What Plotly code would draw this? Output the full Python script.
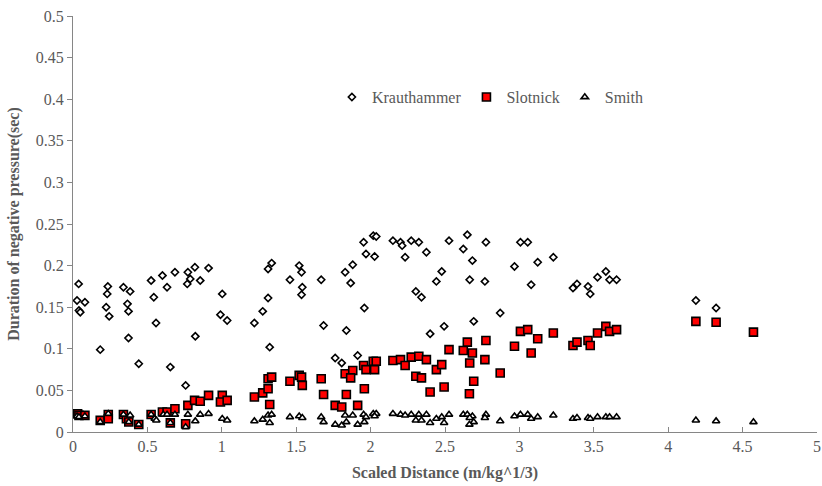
import plotly.graph_objects as go

# Krauthammer
k_x = [0.038, 0.027, 0.080, 0.040, 0.049, 0.234, 0.230, 0.223, 0.243, 0.183,
       0.339, 0.384, 0.366, 0.373, 0.373, 0.442, 0.525, 0.543, 0.558, 0.601,
       0.632, 0.685, 0.654, 0.757, 0.772, 0.788, 0.768, 0.819, 0.822, 0.855,
       0.911, 1.003, 0.991, 1.036, 1.219, 1.275, 1.311, 1.322, 1.311, 1.335,
       1.458, 1.520, 1.536, 1.541, 1.536, 1.668, 1.684, 1.762, 1.806, 1.829,
       1.880, 1.866, 1.837, 1.913, 1.953, 1.969, 2.018, 2.038, 2.027, 1.958,
       2.150, 2.201, 2.212, 2.232, 2.273, 2.324, 2.375, 2.304, 2.342, 2.400,
       2.442, 2.478, 2.494, 2.527, 2.623, 2.650, 2.684, 2.666, 2.693, 2.775,
       2.768, 2.871, 3.007, 3.056, 2.967, 3.123, 3.079, 3.228, 3.360, 3.387,
       3.461, 3.476, 3.525, 3.581, 3.606, 3.653, 4.186, 4.322]
k_y = [0.178, 0.158, 0.156, 0.146, 0.144, 0.175, 0.166, 0.150, 0.139, 0.099,
       0.174, 0.169, 0.154, 0.145, 0.113, 0.082, 0.182, 0.162, 0.131, 0.188,
       0.174, 0.192, 0.078, 0.056, 0.192, 0.184, 0.178, 0.198, 0.115, 0.182,
       0.197, 0.166, 0.141, 0.134, 0.131, 0.145, 0.161, 0.102, 0.196, 0.203,
       0.183, 0.200, 0.192, 0.174, 0.165, 0.183, 0.128, 0.089, 0.083, 0.192,
       0.201, 0.179, 0.122, 0.092, 0.228, 0.214, 0.236, 0.235, 0.211, 0.149,
       0.230, 0.228, 0.224, 0.210, 0.230, 0.228, 0.216, 0.169, 0.162, 0.118,
       0.181, 0.193, 0.127, 0.230, 0.220, 0.237, 0.206, 0.183, 0.133, 0.228,
       0.181, 0.143, 0.228, 0.228, 0.199, 0.204, 0.177, 0.210, 0.173, 0.178,
       0.175, 0.166, 0.186, 0.193, 0.183, 0.183, 0.158, 0.149]

# Slotnick
s_x = [0.031, 0.040, 0.080, 0.183, 0.237, 0.237, 0.339, 0.359, 0.375, 0.442,
       0.525, 0.601, 0.632, 0.654, 0.685, 0.757, 0.772, 0.817, 0.855, 0.911,
       1.003, 0.991, 1.036, 1.219, 1.275, 1.311, 1.311, 1.335, 1.322, 1.458,
       1.520, 1.536, 1.541, 1.668, 1.684, 1.762, 1.806, 1.829, 1.880, 1.866,
       1.837, 1.913, 1.953, 1.969, 2.018, 2.038, 2.027, 1.958, 2.150, 2.201,
       2.232, 2.273, 2.324, 2.375, 2.304, 2.342, 2.400, 2.442, 2.478, 2.494,
       2.527, 2.623, 2.650, 2.684, 2.666, 2.693, 2.664, 2.775, 2.768, 2.871,
       3.007, 3.056, 2.967, 3.123, 3.079, 3.228, 3.360, 3.387, 3.461, 3.476,
       3.525, 3.581, 3.606, 3.653, 4.186, 4.322, 4.573]
s_y = [0.022, 0.020, 0.020, 0.014, 0.021, 0.016, 0.021, 0.016, 0.012, 0.009,
       0.021, 0.024, 0.024, 0.011, 0.028, 0.010, 0.032, 0.038, 0.037, 0.044,
       0.044, 0.036, 0.038, 0.042, 0.047, 0.052, 0.064, 0.066, 0.033, 0.061,
       0.068, 0.066, 0.056, 0.064, 0.045, 0.032, 0.030, 0.070, 0.074, 0.065,
       0.045, 0.032, 0.080, 0.075, 0.085, 0.085, 0.075, 0.052, 0.086, 0.087,
       0.080, 0.090, 0.091, 0.087, 0.067, 0.065, 0.048, 0.075, 0.081, 0.054,
       0.099, 0.098, 0.108, 0.095, 0.083, 0.061, 0.046, 0.110, 0.087, 0.071,
       0.121, 0.123, 0.103, 0.112, 0.095, 0.119, 0.104, 0.108, 0.110, 0.104,
       0.119, 0.127, 0.121, 0.123, 0.133, 0.132, 0.120]

# Smith
m_x = [0.027, 0.040, 0.080, 0.183, 0.237, 0.339, 0.384, 0.375, 0.442, 0.525,
       0.549, 0.560, 0.607, 0.632, 0.654, 0.685, 0.757, 0.772, 0.822, 0.855,
       0.911, 1.003, 1.036, 1.219, 1.275, 1.311, 1.335, 1.322, 1.458, 1.520,
       1.541, 1.668, 1.684, 1.762, 1.806, 1.829, 1.880, 1.837, 1.913, 1.953,
       1.969, 2.018, 2.038, 2.027, 1.958, 2.150, 2.201, 2.232, 2.273, 2.324,
       2.375, 2.304, 2.342, 2.400, 2.442, 2.478, 2.494, 2.527, 2.623, 2.650,
       2.684, 2.666, 2.693, 2.664, 2.775, 2.768, 2.871, 2.967, 3.007, 3.056,
       3.079, 3.123, 3.228, 3.360, 3.387, 3.461, 3.476, 3.525, 3.581, 3.606,
       3.653, 4.186, 4.322, 4.573]
m_y = [0.019, 0.018, 0.019, 0.012, 0.022, 0.021, 0.020, 0.012, 0.009, 0.021,
       0.016, 0.014, 0.021, 0.021, 0.011, 0.021, 0.006, 0.021, 0.013, 0.021,
       0.022, 0.016, 0.014, 0.013, 0.015, 0.020, 0.021, 0.011, 0.018, 0.019,
       0.017, 0.018, 0.012, 0.009, 0.008, 0.020, 0.020, 0.012, 0.009, 0.021,
       0.018, 0.022, 0.022, 0.019, 0.012, 0.022, 0.021, 0.020, 0.021, 0.021,
       0.021, 0.014, 0.014, 0.011, 0.016, 0.018, 0.011, 0.021, 0.021, 0.021,
       0.019, 0.017, 0.012, 0.009, 0.021, 0.017, 0.013, 0.019, 0.021, 0.021,
       0.016, 0.018, 0.020, 0.016, 0.017, 0.017, 0.016, 0.018, 0.018, 0.018,
       0.018, 0.014, 0.013, 0.012]

x_ticks = [0, 0.5, 1, 1.5, 2, 2.5, 3, 3.5, 4, 4.5, 5]
x_labels = ["0", "0.5", "1", "1.5", "2", "2.5", "3", "3.5", "4", "4.5", "5"]
y_ticks = [0, 0.05, 0.1, 0.15, 0.2, 0.25, 0.3, 0.35, 0.4, 0.45, 0.5]
y_labels = ["0", "0.05", "0.1", "0.15", "0.2", "0.25", "0.3", "0.35", "0.4", "0.45", "0.5"]

FONT = "Liberation Serif"
GRAY = "#595959"

fig = go.Figure()
fig.add_trace(go.Scatter(
    x=k_x, y=k_y, mode="markers", name="Krauthammer",
    marker=dict(symbol="diamond", size=5.5, color="white",
                line=dict(color="black", width=1.6)),
    cliponaxis=False))
fig.add_trace(go.Scatter(
    x=s_x, y=s_y, mode="markers", name="Slotnick",
    marker=dict(symbol="square", size=8, color="#FF0000",
                line=dict(color="black", width=1.6)),
    cliponaxis=False))
fig.add_trace(go.Scatter(
    x=m_x, y=m_y, mode="markers", name="Smith",
    marker=dict(symbol="triangle-up", size=6.5, color="white",
                line=dict(color="black", width=1.6)),
    cliponaxis=False))

fig.update_layout(
    width=822, height=486,
    margin=dict(l=73, r=1, t=16, b=54),
    paper_bgcolor="white", plot_bgcolor="white",
    font=dict(family=FONT, size=16, color=GRAY),
    showlegend=True,
    legend=dict(orientation="h", x=0.348, y=0.805, xanchor="left", yanchor="middle",
                bgcolor="rgba(0,0,0,0)", font=dict(family=FONT, size=16, color=GRAY),
                itemwidth=30, tracegroupgap=0),
    xaxis=dict(range=[0, 5], tickvals=x_ticks, ticktext=x_labels,
               showgrid=False, zeroline=False, showline=True,
               linecolor="#868686", linewidth=1,
               ticks="inside", ticklen=5, tickcolor="#868686",
               ticklabeloverflow="allow",
               tickfont=dict(family=FONT, size=16, color=GRAY),
               title=dict(text="<b>Scaled Distance (m/kg^1/3)</b>",
                          font=dict(family=FONT, size=16, color=GRAY), standoff=12)),
    yaxis=dict(range=[0, 0.5], tickvals=y_ticks, ticktext=y_labels,
               showgrid=False, zeroline=False, showline=True,
               linecolor="#868686", linewidth=1,
               ticks="outside", ticklen=5, tickcolor="#868686",
               tickfont=dict(family=FONT, size=16, color=GRAY),
               title=dict(text="<b>Duration of negative pressure(sec)</b>",
                          font=dict(family=FONT, size=16, color=GRAY), standoff=12)),
)

fig.write_html("out.html")
